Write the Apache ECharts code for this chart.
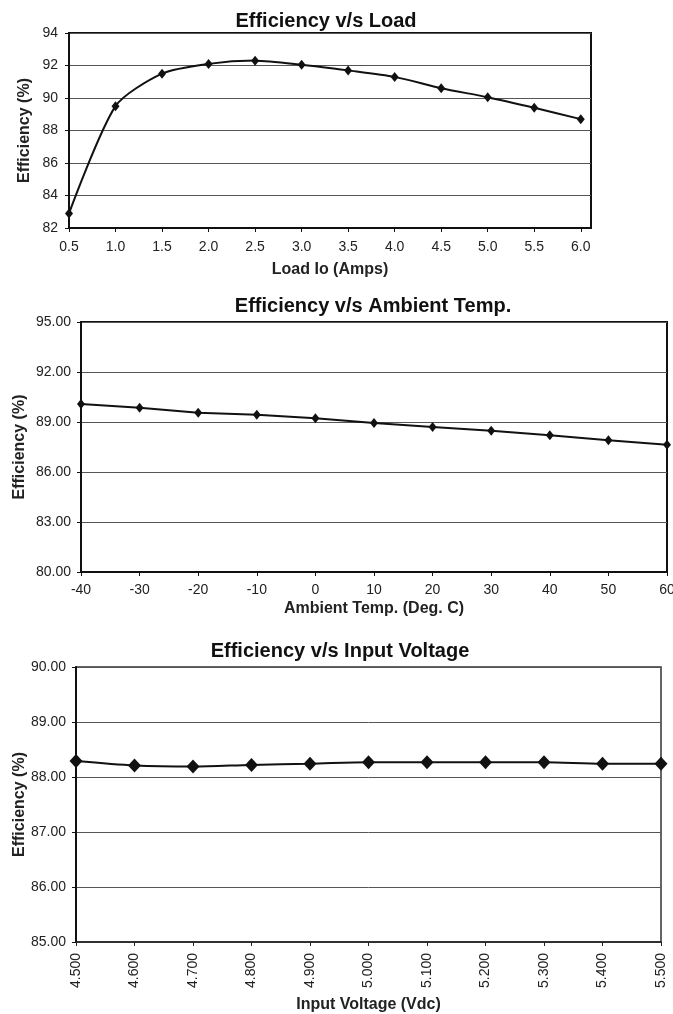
<!DOCTYPE html>
<html>
<head>
<meta charset="utf-8">
<script src="https://cdn.jsdelivr.net/npm/echarts@6/dist/echarts.min.js"></script>
<style>
  html, body { margin: 0; padding: 0; background: #fff; }
  #main { width: 673px; height: 1014px; }
</style>
</head>
<body>
<div id="main"></div>
<script>
// chart 1 - efficiency vs load
var loadX = [0.5, 1.0, 1.5, 2.0, 2.5, 3.0, 3.5, 4.0, 4.5, 5.0, 5.5, 6.0]
var loadEff = [82.9, 89.5, 91.5, 92.1, 92.3, 92.05, 91.7, 91.3, 90.6, 90.05, 89.4, 88.7]
var loadTicks = [82, 84, 86, 88, 90, 92, 94]

// chart 2 - efficiency vs ambient temp
var tempX = [-40, -30, -20, -10, 0, 10, 20, 30, 40, 50, 60]
var tempEff = [90.08, 89.86, 89.56, 89.44, 89.22, 88.94, 88.7, 88.48, 88.2, 87.9, 87.64]
var tempTicks = [80, 83, 86, 89, 92, 95]

// chart 3 - efficiency vs input voltage
var vinX = [4.5, 4.6, 4.7, 4.8, 4.9, 5.0, 5.1, 5.2, 5.3, 5.4, 5.5]
var vinEff = [88.29, 88.21, 88.19, 88.22, 88.24, 88.27, 88.27, 88.27, 88.27, 88.24, 88.24]
var vinTicks = [85, 86, 87, 88, 89, 90]

var FONT = '"Liberation Sans", Arial, sans-serif'
var txt = '#222'

function pairs(xs, ys) {
    return xs.map(function (x, i) { return [x, ys[i]] })
}

var titleStyle = { fontFamily: FONT, fontSize: 20, fontWeight: 'bold', color: '#111' }
var nameStyle = { fontFamily: FONT, fontSize: 16, fontWeight: 'bold', color: txt }

function yAxisOf(idx, ticks, step, digits, gap, margin) {
    return {
        type: 'value',
        gridIndex: idx,
        min: ticks[0],
        max: ticks[ticks.length - 1],
        interval: step,
        name: 'Efficiency (%)',
        nameLocation: 'middle',
        nameGap: gap,
        nameMoveOverlap: false,
        nameTextStyle: nameStyle,
        axisLine: { show: true, onZero: false, lineStyle: { color: '#111', width: 2 } },
        axisTick: { show: true, inside: false, length: 4, lineStyle: { color: '#111' } },
        axisLabel: {
            fontFamily: FONT, fontSize: 14, color: txt, margin: margin,
            formatter: function (v) { return v.toFixed(digits) }
        },
        splitLine: { show: true, lineStyle: { color: '#555', width: 1 } }
    }
}

var option = {
    backgroundColor: '#fff',
    animation: false,
    title: [
        { text: 'Efficiency v/s Load', left: 321, top: 6, textAlign: 'center', textStyle: titleStyle },
        { text: 'Efficiency v/s Ambient Temp.', left: 368, top: 291, textAlign: 'center', textStyle: titleStyle },
        { text: 'Efficiency v/s Input Voltage', left: 335, top: 636, textAlign: 'center', textStyle: titleStyle }
    ],
    grid: [
        { left: 69, top: 33, width: 522, height: 195, outerBoundsMode: 'none', containLabel: false,
          show: true, borderColor: '#111', borderWidth: 2, backgroundColor: 'transparent' },
        { left: 81, top: 322, width: 586, height: 250, outerBoundsMode: 'none', containLabel: false,
          show: true, borderColor: '#111', borderWidth: 2, backgroundColor: 'transparent' },
        { left: 76, top: 667, width: 585, height: 275, outerBoundsMode: 'none', containLabel: false,
          show: true, borderColor: '#333', borderWidth: 1.5, backgroundColor: 'transparent' }
    ],
    xAxis: [
        {
            type: 'value', gridIndex: 0, min: 0.5, max: 6.11,
            name: 'Load Io (Amps)', nameLocation: 'middle', nameGap: 34, nameMoveOverlap: false,
            nameTextStyle: nameStyle,
            axisLine: { show: true, onZero: false, lineStyle: { color: '#111', width: 2 } },
            axisTick: { show: true, length: 4, customValues: loadX, lineStyle: { color: '#111' } },
            axisLabel: {
                fontFamily: FONT, fontSize: 14, color: txt, margin: 12, customValues: loadX,
                formatter: function (v) { return v.toFixed(1) }
            },
            splitLine: { show: false }
        },
        {
            type: 'value', gridIndex: 1, min: -40, max: 60, interval: 10,
            name: 'Ambient Temp. (Deg. C)', nameLocation: 'middle', nameGap: 29, nameMoveOverlap: false,
            nameTextStyle: nameStyle,
            axisLine: { show: true, onZero: false, lineStyle: { color: '#111', width: 2 } },
            axisTick: { show: true, length: 4, lineStyle: { color: '#111' } },
            axisLabel: { fontFamily: FONT, fontSize: 14, color: txt, margin: 11 },
            splitLine: { show: false }
        },
        {
            type: 'value', gridIndex: 2, min: 4.5, max: 5.5, interval: 0.1,
            name: 'Input Voltage (Vdc)', nameLocation: 'middle', nameGap: 55, nameMoveOverlap: false,
            nameTextStyle: nameStyle,
            axisLine: { show: true, onZero: false, lineStyle: { color: '#222', width: 1.5 } },
            axisTick: { show: true, length: 4, lineStyle: { color: '#222' } },
            axisLabel: {
                fontFamily: FONT, fontSize: 14, color: txt, margin: 11, rotate: 90,
                formatter: function (v) { return v.toFixed(3) }
            },
            splitLine: { show: false }
        }
    ],
    yAxis: [
        yAxisOf(0, loadTicks, 2, 0, 36, 11),
        yAxisOf(1, tempTicks, 3, 2, 53, 10),
        yAxisOf(2, vinTicks, 1, 2, 48, 10)
    ],
    series: [
        {
            type: 'line', xAxisIndex: 0, yAxisIndex: 0, data: pairs(loadX, loadEff),
            smooth: 0.25, clip: false,
            symbol: 'diamond', symbolSize: [8, 10],
            lineStyle: { color: '#111', width: 2 },
            itemStyle: { color: '#111' }
        },
        {
            type: 'line', xAxisIndex: 1, yAxisIndex: 1, data: pairs(tempX, tempEff),
            clip: false,
            symbol: 'diamond', symbolSize: [8, 10],
            lineStyle: { color: '#111', width: 2 },
            itemStyle: { color: '#111' }
        },
        {
            type: 'line', xAxisIndex: 2, yAxisIndex: 2, data: pairs(vinX, vinEff),
            smooth: 0.3, clip: false,
            symbol: 'diamond', symbolSize: [13, 14],
            lineStyle: { color: '#111', width: 2 },
            itemStyle: { color: '#111' }
        }
    ]
}

var myChart = echarts.init(document.getElementById('main'))
myChart.setOption(option)
</script>
</body>
</html>
